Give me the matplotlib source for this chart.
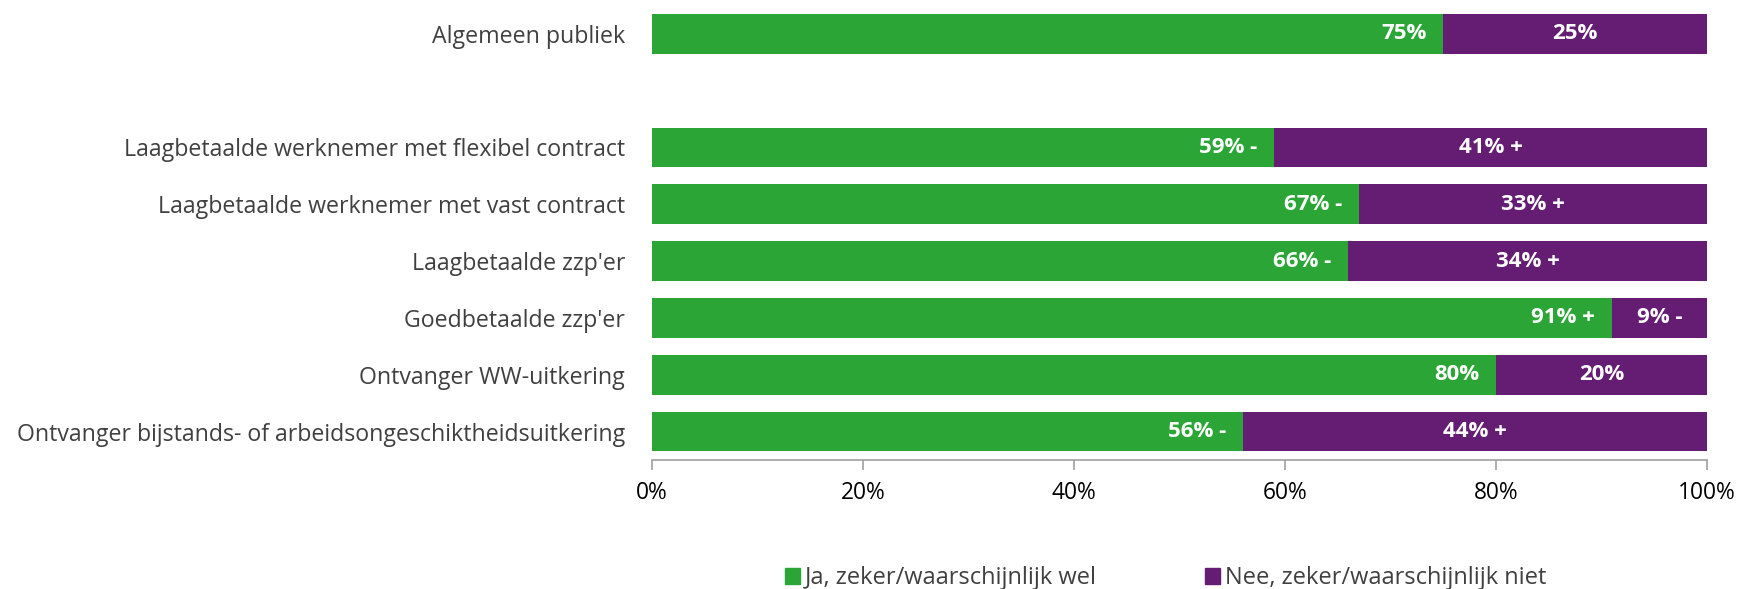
import matplotlib
matplotlib.use("Agg")
import matplotlib.pyplot as plt
from matplotlib.patches import Patch

plt.rcParams['font.family'] = ['Open Sans', 'DejaVu Sans']

# gegevens
categories = ["Algemeen publiek",
              "Laagbetaalde werknemer met flexibel contract",
              "Laagbetaalde werknemer met vast contract",
              "Laagbetaalde zzp'er",
              "Goedbetaalde zzp'er",
              "Ontvanger WW-uitkering",
              "Ontvanger bijstands- of arbeidsongeschiktheidsuitkering"]
ja = [75, 59, 67, 66, 91, 80, 56]
nee = [25, 41, 33, 34, 9, 20, 44]
ja_sig = ["", "-", "-", "-", "+", "", "-"]
nee_sig = ["", "+", "+", "+", "-", "", "+"]
series_names = ["Ja, zeker/waarschijnlijk wel", "Nee, zeker/waarschijnlijk niet"]
xticks = [0, 20, 40, 60, 80, 100]

green = '#2ba636'
purple = '#641d73'
textgrey = '#404040'

# rij 1 blijft leeg (witregel na algemeen publiek)
ypos = [0, 2, 3, 4, 5, 6, 7]

fig = plt.figure(figsize=(17.4, 5.89), dpi=100)
ax = fig.add_axes([0.3747, 0.219, 0.6063, 0.772])

ax.barh(ypos, ja, height=0.7, color=green)
ax.barh(ypos, nee, left=ja, height=0.7, color=purple)

for y, a, b, sa, sb in zip(ypos, ja, nee, ja_sig, nee_sig):
    la = f"{a}%" + (f" {sa}" if sa else "")
    lb = f"{b}%" + (f" {sb}" if sb else "")
    ax.text(a - 1.6, y, la, ha='right', va='center', color='white',
            fontsize=16, fontweight='bold')
    ax.text(a + b / 2, y, lb, ha='center', va='center', color='white',
            fontsize=16, fontweight='bold')

ax.set_xlim(0, 100)
ax.set_ylim(7.5, -0.5)
ax.set_yticks(ypos)
ax.set_yticklabels(categories, fontsize=16.7, color=textgrey)
ax.tick_params(axis='y', length=0, pad=19.5)
ax.set_xticks(xticks)
ax.set_xticklabels([f"{t}%" for t in xticks], fontsize=16.4, color='black')
ax.tick_params(axis='x', length=7, width=1.2, color='#a0a0a0', pad=8)

for s in ['top', 'right', 'left']:
    ax.spines[s].set_visible(False)
ax.spines['bottom'].set_color('#a0a0a0')
ax.spines['bottom'].set_linewidth(1.2)

handles = [Patch(color=green), Patch(color=purple)]
fig.legend(handles, series_names, loc='center', bbox_to_anchor=(0.67, 0.018),
           ncol=2, frameon=False, fontsize=17, labelcolor=textgrey,
           handlelength=0.62, handleheight=0.62, handletextpad=0.2,
           columnspacing=4.6)

fig.savefig("out.png", dpi=100)
